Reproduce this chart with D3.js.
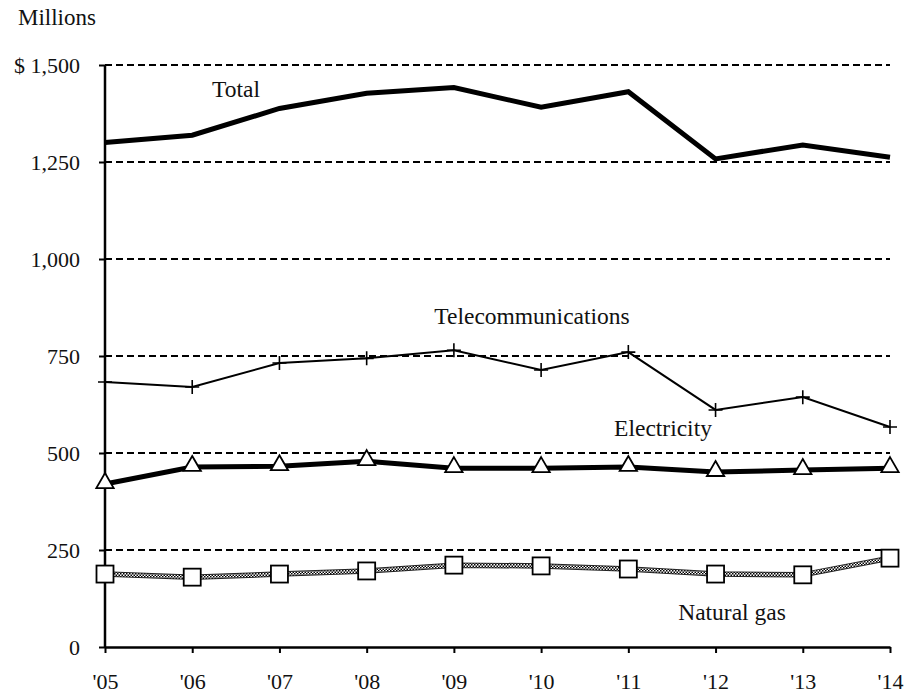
<!DOCTYPE html>
<html>
<head>
<meta charset="utf-8">
<script src="https://cdn.jsdelivr.net/npm/d3@7"></script>
<style>
body { margin: 0; background: #fff; }
text { font-family: "Liberation Serif", "DejaVu Serif", "Times New Roman", serif; fill: #111; }
</style>
</head>
<body>
<svg id="chart" width="908" height="694"></svg>
<script>
let years = ["'05", "'06", "'07", "'08", "'09", "'10", "'11", "'12", "'13", "'14"]
let total = [1300, 1319, 1388, 1427, 1442, 1391, 1431, 1258, 1294, 1262]
let telecom = [683, 670, 732, 744, 765, 714, 760, 611, 644, 567]
let electricity = [420, 464, 466, 479, 461, 461, 464, 451, 456, 461]
let naturalGas = [188, 180, 188, 196, 211, 209, 201, 188, 186, 229]
let yTicks = [0, 250, 500, 750, 1000, 1250, 1500]

let svg = d3.select('#chart')

let margin = { left: 105, right: 18, top: 65, bottom: 47 }
let width = 908, height = 694

let x = d3.scalePoint()
	.domain(years)
	.range([margin.left, width - margin.right])

let y = d3.scaleLinear()
	.domain([0, 1500])
	.range([height - margin.bottom, margin.top])

// checker pattern for natural gas line
let defs = svg.append('defs')
let pat = defs.append('pattern')
	.attr('id', 'checker')
	.attr('width', 3)
	.attr('height', 3)
	.attr('patternUnits', 'userSpaceOnUse')
pat.append('rect').attr('width', 3).attr('height', 3).attr('fill', '#fff')
pat.append('rect').attr('width', 1.5).attr('height', 1.5).attr('fill', '#000')
pat.append('rect').attr('x', 1.5).attr('y', 1.5).attr('width', 1.5).attr('height', 1.5).attr('fill', '#000')

// gridlines
svg.append('g')
	.selectAll('line')
	.data(yTicks.filter(d => d > 0))
	.enter()
	.append('line')
	.attr('x1', margin.left)
	.attr('x2', width - margin.right)
	.attr('y1', d => y(d))
	.attr('y2', d => y(d))
	.attr('stroke', '#000')
	.attr('stroke-width', 2)
	.attr('stroke-dasharray', '7,4')

// y axis
let yAxis = svg.append('g')
	.attr('transform', `translate(${margin.left},0)`)
	.call(d3.axisLeft(y)
		.tickValues(yTicks)
		.tickSize(6)
		.tickPadding(19)
		.tickFormat(d => d === 1500 ? '$ 1,500' : d3.format(',')(d)))

yAxis.select('.domain').remove()
yAxis.selectAll('.tick line').attr('stroke', '#000').attr('stroke-width', 2)
yAxis.selectAll('.tick text')
	.attr('font-size', 22)
	.attr('fill', '#111')

svg.append('line')
	.attr('x1', margin.left)
	.attr('x2', margin.left)
	.attr('y1', y(1500))
	.attr('y2', y(0))
	.attr('stroke', '#000')
	.attr('stroke-width', 2.5)

// x axis
let xAxis = svg.append('g')
	.attr('transform', `translate(0,${y(0)})`)
	.call(d3.axisBottom(x)
		.tickSize(6)
		.tickPadding(20)
		.tickSizeOuter(0))

xAxis.select('.domain').attr('stroke', '#000').attr('stroke-width', 2.5)
xAxis.selectAll('.tick line').attr('stroke', '#000').attr('stroke-width', 2)
xAxis.selectAll('.tick text')
	.attr('font-size', 22)
	.attr('fill', '#111')

svg.append('text')
	.attr('x', 18)
	.attr('y', 25)
	.attr('font-size', 23)
	.text('Millions')

let line = d3.line()
	.x((d, i) => x(years[i]))
	.y(d => y(d))

// natural gas
svg.append('path')
	.datum(naturalGas)
	.attr('d', line)
	.attr('fill', 'none')
	.attr('stroke', '#222')
	.attr('stroke-width', 5.5)
svg.append('path')
	.datum(naturalGas)
	.attr('d', line)
	.attr('fill', 'none')
	.attr('stroke', 'url(#checker)')
	.attr('stroke-width', 3.5)

svg.append('g')
	.selectAll('rect')
	.data(naturalGas)
	.enter()
	.append('rect')
	.attr('x', (d, i) => x(years[i]) - 8.5)
	.attr('y', d => y(d) - 8.5)
	.attr('width', 17)
	.attr('height', 17)
	.attr('fill', '#fff')
	.attr('stroke', '#000')
	.attr('stroke-width', 1.8)

// electricity
svg.append('path')
	.datum(electricity)
	.attr('d', line)
	.attr('fill', 'none')
	.attr('stroke', '#000')
	.attr('stroke-width', 5)

let tri = d3.symbol().type(d3.symbolTriangle).size(130)
svg.append('g')
	.selectAll('path')
	.data(electricity)
	.enter()
	.append('path')
	.attr('d', tri)
	.attr('transform', (d, i) => `translate(${x(years[i])},${y(d) - 1})`)
	.attr('fill', '#fff')
	.attr('stroke', '#000')
	.attr('stroke-width', 1.8)

// telecommunications
svg.append('path')
	.datum(telecom)
	.attr('d', line)
	.attr('fill', 'none')
	.attr('stroke', '#000')
	.attr('stroke-width', 2)

svg.append('g')
	.selectAll('path')
	.data(telecom)
	.enter()
	.append('path')
	.attr('d', 'M-7,0H7M0,-7V7')
	.attr('transform', (d, i) => `translate(${x(years[i])},${y(d)})`)
	.attr('stroke', '#000')
	.attr('stroke-width', 1.6)

// total
svg.append('path')
	.datum(total)
	.attr('d', line)
	.attr('fill', 'none')
	.attr('stroke', '#000')
	.attr('stroke-width', 5)

// series labels
let labels = [
	{ text: 'Total', x: 236, y: 97 },
	{ text: 'Telecommunications', x: 532, y: 324 },
	{ text: 'Electricity', x: 663, y: 436 },
	{ text: 'Natural gas', x: 732, y: 620 }
]
svg.append('g')
	.selectAll('text')
	.data(labels)
	.enter()
	.append('text')
	.attr('x', d => d.x)
	.attr('y', d => d.y)
	.attr('text-anchor', 'middle')
	.attr('font-size', 23.5)
	.text(d => d.text)
</script>
</body>
</html>
